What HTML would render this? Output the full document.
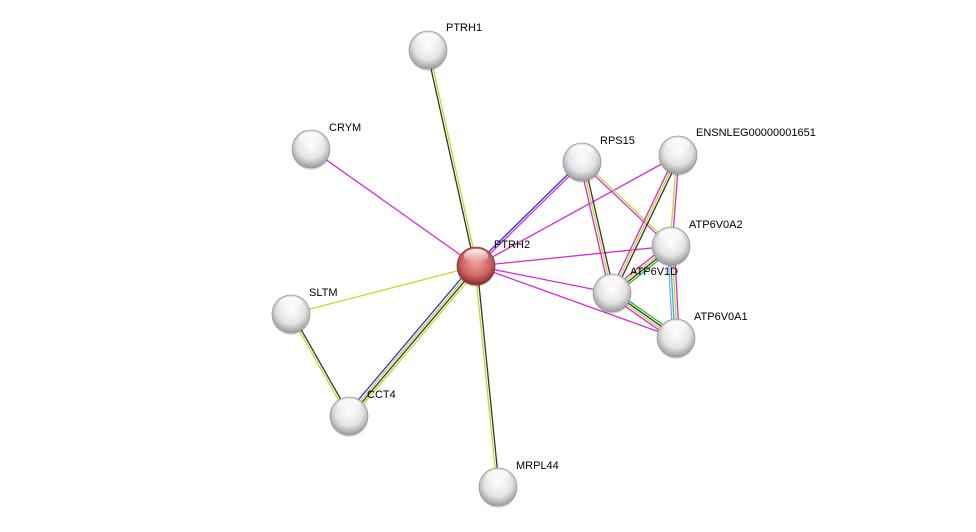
<!DOCTYPE html>
<html><head><meta charset="utf-8"><style>
html,body{margin:0;padding:0;background:#fff;width:976px;height:532px;overflow:hidden}
svg{display:block}
text{font-family:"Liberation Sans",sans-serif;font-size:11px;fill:#000}
</style></head><body>
<svg id="s" width="976" height="532" xmlns="http://www.w3.org/2000/svg">
<defs>
<radialGradient id="g" cx="50%" cy="40%" r="60%">
<stop offset="0" stop-color="#ffffff"/><stop offset="0.6" stop-color="#e4e4e4"/><stop offset="1" stop-color="#9a9a9a"/>
</radialGradient>
<radialGradient id="r" cx="50%" cy="40%" r="60%">
<stop offset="0" stop-color="#f0a0a0"/><stop offset="0.6" stop-color="#d06868"/><stop offset="1" stop-color="#8a2a2a"/>
</radialGradient>
<linearGradient id="hl" x1="0" y1="0" x2="0" y2="1">
<stop offset="0" stop-color="#fff" stop-opacity="0.95"/><stop offset="1" stop-color="#fff" stop-opacity="0"/>
</linearGradient>
</defs>
<g id="edges"></g>
<g id="nodes"></g>
</svg>
<script>
var N={PTRH1:[428,50],CRYM:[311,149],PTRH2:[476,266],RPS15:[582,162],ENSN:[678,155],A2:[671,246],V1D:[612,293],A1:[676,338],SLTM:[291,314],CCT4:[349,416],MRPL44:[498,487]};
var K="#333",Y="#c2d82a",M="#d62ad6",B="#2a2af0",G="#22bb22",C="#22bbdd",L="#9999ff";
var E=[["PTRH2","PTRH1",[K,Y]],["PTRH2","CRYM",[M]],["PTRH2","SLTM",[Y]],["PTRH2","CCT4",[Y,K,Y,B]],["PTRH2","MRPL44",[K,Y]],
["PTRH2","RPS15",[B,M]],["PTRH2","ENSN",[M]],["PTRH2","A2",[M]],["PTRH2","V1D",[M]],["PTRH2","A1",[M]],
["SLTM","CCT4",[K,Y]],["RPS15","V1D",[K,Y,M]],["RPS15","A2",[Y,M]],["ENSN","V1D",[K,Y,M]],["ENSN","A2",[M,Y]],
["A2","V1D",[G,K,Y,M]],["A2","A1",[M,Y,C,L]],["V1D","A1",[G,K,Y,M]]];
var ns="http://www.w3.org/2000/svg",eg=document.getElementById("edges");
E.forEach(function(e){var a=N[e[0]],b=N[e[1]],dx=b[0]-a[0],dy=b[1]-a[1],l=Math.hypot(dx,dy),px=-dy/l,py=dx/l,n=e[2].length;
e[2].forEach(function(c,i){var o=(i-(n-1)/2)*2.2;var ln=document.createElementNS(ns,"line");
ln.setAttribute("x1",a[0]+px*o);ln.setAttribute("y1",a[1]+py*o);ln.setAttribute("x2",b[0]+px*o);ln.setAttribute("y2",b[1]+py*o);
ln.setAttribute("stroke",c);ln.setAttribute("stroke-width","1.3");eg.appendChild(ln);});});
var lab={PTRH1:["PTRH1",18,-23],CRYM:["CRYM",18,-22],PTRH2:["PTRH2",18,-22],RPS15:["RPS15",18,-22],ENSN:["ENSNLEG00000001651",18,-23],A2:["ATP6V0A2",18,-22],V1D:["ATP6V1D",18,-22],A1:["ATP6V0A1",18,-22],SLTM:["SLTM",18,-22],CCT4:["CCT4",18,-22],MRPL44:["MRPL44",18,-22]};
var ng=document.getElementById("nodes"),h="";
for(var k in N){var p=N[k];h+='<circle cx="'+p[0]+'" cy="'+(p[1]+2)+'" r="19" fill="#000" opacity="0.15"/>';
h+='<circle cx="'+p[0]+'" cy="'+p[1]+'" r="19" fill="url(#'+(k=="PTRH2"?"r":"g")+')" stroke="'+(k=="PTRH2"?"#8a3030":"#999")+'" stroke-width="0.8"/>';
h+='<ellipse cx="'+p[0]+'" cy="'+(p[1]-10)+'" rx="12" ry="7" fill="url(#hl)"/>';
var t=lab[k];h+='<text x="'+(p[0]+t[1])+'" y="'+(p[1]+t[2]+4)+'">'+t[0]+'</text>';}
ng.innerHTML=h;
</script>
</body></html>
